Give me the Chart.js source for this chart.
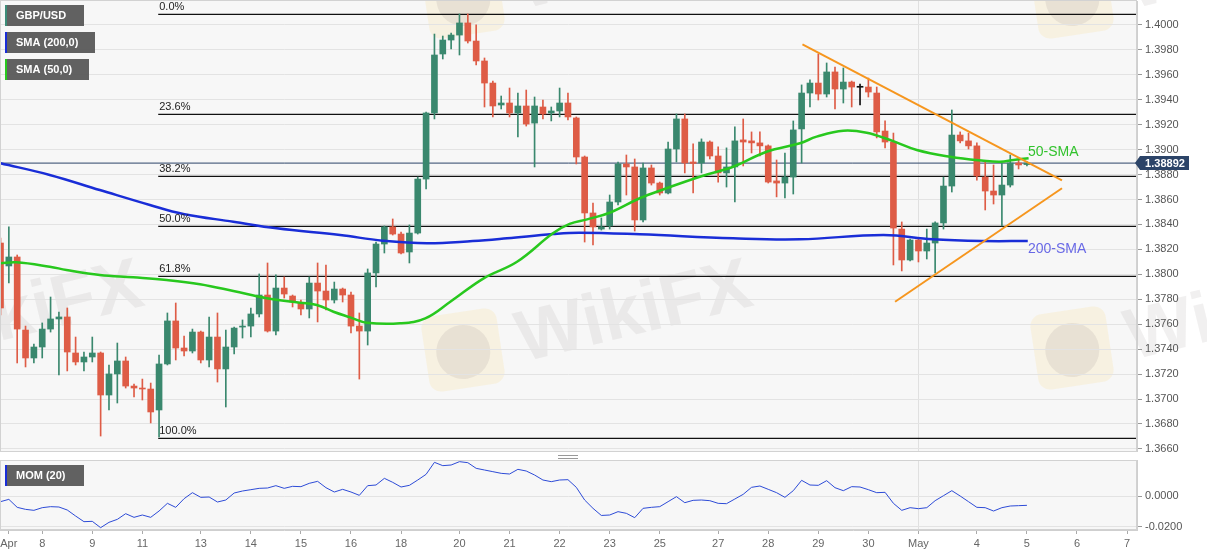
<!DOCTYPE html>
<html>
<head>
<meta charset="utf-8">
<script src="https://cdn.jsdelivr.net/npm/chart.js@4"></script>
<style>
  body { margin: 0; background: #fff; width: 1207px; height: 555px; overflow: hidden; position: relative; }
  #priceChart { position: absolute; left: 0; top: 0; width: 1207px; height: 455px; }
  #momChart { position: absolute; left: 0; top: 455px; width: 1207px; height: 100px; }
</style>
</head>
<body>
<canvas id="priceChart" width="1207" height="455"></canvas>
<canvas id="momChart" width="1207" height="100"></canvas>
<script>
// GBP/USD 4H candles, 7 Apr -> 5 May (index = candle number)
const opens = [1.38251,1.38067,1.38139,1.37553,1.37329,1.37417,1.37561,1.37642,1.37658,1.37369,
  1.37297,1.37337,1.37369,1.37032,1.37201,1.37305,1.37104,1.37088,1.37080,1.36912,
  1.37281,1.37626,1.37409,1.37385,1.37537,1.37313,1.37497,1.37241,1.37417,1.37577,
  1.37585,1.37682,1.37834,1.37545,1.37890,1.37826,1.37770,1.37722,1.37930,1.37866,
  1.37794,1.37882,1.37834,1.37585,1.37545,1.38011,1.38243,1.38380,1.38323,1.38179,
  1.38331,1.38764,1.39294,1.39767,1.39879,1.39919,1.40016,1.39871,1.39711,1.39534,
  1.39358,1.39374,1.39294,1.39350,1.39213,1.39342,1.39294,1.39310,1.39374,1.39254,
  1.38941,1.38492,1.38363,1.38388,1.38580,1.38885,1.38861,1.38436,1.38853,1.38732,
  1.38652,1.39005,1.39246,1.38901,1.38893,1.39061,1.38949,1.38813,1.38861,1.39078,
  1.39070,1.39054,1.39030,1.38749,1.38732,1.38780,1.39166,1.39454,1.39534,1.39446,
  1.39623,1.39486,1.39542,1.39500,1.39502,1.39454,1.39149,1.39061,1.38363,1.38115,
  1.38275,1.38187,1.38251,1.38412,1.38708,1.39117,1.39070,1.39030,1.38780,1.38668,
  1.38636,1.38716,1.38893,1.38880];
const highs = [1.38291,1.38380,1.38155,1.37585,1.37441,1.37610,1.37818,1.37698,1.37730,1.37497,
  1.37377,1.37497,1.37377,1.37273,1.37449,1.37337,1.37120,1.37160,1.37128,1.37353,
  1.37690,1.37770,1.37505,1.37561,1.37545,1.37658,1.37690,1.37553,1.37577,1.37634,
  1.37730,1.38003,1.38091,1.37995,1.37979,1.37834,1.37794,1.37979,1.38091,1.38075,
  1.37938,1.37890,1.37858,1.37690,1.38043,1.38259,1.38388,1.38444,1.38339,1.38396,
  1.38780,1.39302,1.39927,1.39911,1.39935,1.40088,1.40088,1.40000,1.39735,1.39550,
  1.39430,1.39494,1.39454,1.39478,1.39422,1.39398,1.39342,1.39494,1.39454,1.39262,
  1.38949,1.38572,1.38452,1.38636,1.38901,1.38957,1.38925,1.38893,1.38877,1.38740,
  1.39061,1.39286,1.39286,1.39046,1.39086,1.39070,1.39022,1.39014,1.39182,1.39246,
  1.39142,1.39142,1.39038,1.38917,1.38973,1.39230,1.39519,1.39559,1.39767,1.39695,
  1.39663,1.39655,1.39550,1.39526,1.39574,1.39502,1.39230,1.39133,1.38420,1.38283,
  1.38283,1.38363,1.38420,1.38780,1.39318,1.39142,1.39133,1.39054,1.38901,1.38877,
  1.38893,1.38957,1.38917,1.38905];
const lows = [1.37674,1.37930,1.37289,1.37257,1.37289,1.37329,1.37537,1.37193,1.37225,1.37273,
  1.37225,1.37297,1.36703,1.36912,1.36968,1.37088,1.37016,1.36992,1.36808,1.36695,
  1.37273,1.37313,1.37345,1.37369,1.37289,1.37257,1.37136,1.36936,1.37361,1.37489,
  1.37497,1.37658,1.37537,1.37513,1.37810,1.37738,1.37674,1.37650,1.37618,1.37714,
  1.37770,1.37778,1.37529,1.37160,1.37433,1.37898,1.38171,1.38315,1.38163,1.38091,
  1.38323,1.38684,1.39246,1.39727,1.39807,1.39759,1.39855,1.39679,1.39342,1.39262,
  1.39326,1.39262,1.39101,1.39189,1.38861,1.39246,1.39230,1.39262,1.39238,1.38885,
  1.38259,1.38235,1.38355,1.38363,1.38556,1.38636,1.38347,1.38420,1.38716,1.38636,
  1.38644,1.38901,1.38813,1.38652,1.38813,1.38925,1.38740,1.38700,1.38580,1.38869,
  1.38973,1.38949,1.38732,1.38621,1.38612,1.38644,1.38893,1.39342,1.39398,1.39422,
  1.39326,1.39374,1.39342,1.39358,1.39422,1.39094,1.39014,1.38075,1.38027,1.38107,
  1.38099,1.38123,1.38011,1.38363,1.38660,1.39054,1.39005,1.38756,1.38516,1.38564,
  1.38388,1.38700,1.38845,1.38870];
const closes = [1.37730,1.38139,1.37561,1.37329,1.37417,1.37561,1.37642,1.37658,1.37377,1.37297,
  1.37337,1.37369,1.37032,1.37201,1.37305,1.37104,1.37088,1.37080,1.36896,1.37281,
  1.37626,1.37409,1.37385,1.37537,1.37313,1.37497,1.37241,1.37417,1.37569,1.37585,
  1.37682,1.37834,1.37545,1.37890,1.37842,1.37778,1.37722,1.37930,1.37866,1.37794,
  1.37882,1.37834,1.37585,1.37545,1.38011,1.38243,1.38380,1.38323,1.38171,1.38331,
  1.38764,1.39294,1.39759,1.39879,1.39919,1.40016,1.39871,1.39711,1.39534,1.39350,
  1.39374,1.39294,1.39350,1.39205,1.39350,1.39286,1.39310,1.39374,1.39262,1.38941,
  1.38492,1.38380,1.38380,1.38580,1.38885,1.38861,1.38436,1.38853,1.38732,1.38652,
  1.39005,1.39246,1.38893,1.38889,1.39061,1.38949,1.38813,1.38861,1.39070,1.39061,
  1.39054,1.39030,1.38740,1.38732,1.38780,1.39158,1.39454,1.39534,1.39446,1.39623,
  1.39486,1.39542,1.39502,1.39500,1.39462,1.39142,1.39061,1.38371,1.38115,1.38275,
  1.38187,1.38251,1.38412,1.38708,1.39117,1.39070,1.39030,1.38789,1.38668,1.38636,
  1.38716,1.38893,1.38877,1.38892];

// MOM (20), one value per candle
const momValues = [-0.00353,-0.00200,-0.00726,-0.00858,-0.00923,-0.00748,-0.00682,-0.00704,-0.00901,-0.01296,
  -0.01669,-0.01647,-0.02064,-0.01713,-0.01516,-0.01143,-0.01384,-0.01230,-0.01384,-0.00967,
  -0.00463,-0.00726,-0.00156,0.00239,-0.00068,-0.00046,-0.00375,-0.00243,0.00217,0.00349,
  0.00436,0.00524,0.00546,0.00700,0.00524,0.00656,0.00634,0.00853,0.00985,0.00568,
  0.00283,0.00459,0.00283,0.00064,0.00700,0.00744,0.01182,0.00919,0.00612,0.00722,
  0.01073,0.01446,0.02235,0.02016,0.02060,0.02279,0.02213,0.01840,0.01731,0.01621,
  0.01511,0.01467,0.01775,0.01665,0.01402,0.01073,0.00963,0.01073,0.01094,0.00590,
  -0.00243,-0.00792,-0.01260,-0.01230,-0.01011,-0.01121,-0.01406,-0.00792,-0.00726,-0.00682,
  -0.00353,-0.00024,-0.00419,-0.00265,-0.00243,-0.00288,-0.00463,-0.00485,-0.00178,0.00130,
  0.00590,0.00678,0.00459,0.00239,-0.00068,0.00370,0.01051,0.00744,0.00722,0.01028,
  0.00568,0.00370,0.00634,0.00612,0.00436,0.00239,0.00261,-0.00463,-0.00923,-0.00748,
  -0.00814,-0.00748,-0.00288,0.00041,0.00370,0.00020,-0.00353,-0.00726,-0.00748,-0.00967,
  -0.00748,-0.00638,-0.00616,-0.00594];

// moving averages, read at sample points
const sma50X = [0,1.9,5.9,7.9,11.9,15.9,19.9,23.9,27.9,31.9,35.9,37.9,39.9,41.9,43.9,47.9,50.9,53.9,57.9,61.9,
  66.2,68.2,70.3,73.0,76.6,79.8,83.8,87.8,91.8,95.8,97.8,101.0,103.8,106.6,109.8,113.8,117.8,119.8,121.4,123.2];
const sma50Y = [1.38088,1.38096,1.38061,1.38035,1.37995,1.37976,1.37954,1.37920,1.37866,1.37808,1.37772,1.37754,1.37700,1.37655,1.37612,1.37607,1.37647,1.37780,1.37968,1.38101,
  1.38329,1.38404,1.38441,1.38494,1.38610,1.38690,1.38783,1.38863,1.38983,1.39051,1.39104,1.39152,1.39136,1.39077,1.38997,1.38943,1.38911,1.38903,1.38917,1.38931];
const sma200X = [0,5.9,11.9,17.9,21.9,27.9,33.1,40.7,45.8,51.1,56.6,60.7,66.2,69.4,76.6,87.8,95.8,105.8,111.7,117.7,123.1];
const sma200Y = [1.38891,1.38797,1.38676,1.38556,1.38484,1.38422,1.38369,1.38315,1.38270,1.38249,1.38267,1.38289,1.38323,1.38334,1.38321,1.38289,1.38281,1.38315,1.38281,1.38267,1.38267];

// Fibonacci retracement
const fibNames = ['0.0%', '23.6%', '38.2%', '50.0%', '61.8%', '100.0%'];
const fibPrices = [1.40085, 1.39283, 1.38786, 1.38385, 1.37984, 1.36685];
const fibStart = 18.9;

// triangle
const upperTrendX = [96.1, 127.2];
const upperTrendY = [1.39845, 1.38754];
const lowerTrendX = [107.2, 127.2];
const lowerTrendY = [1.37780, 1.38690];

const lastPrice = 1.38892;
const priceTicks = [1.3660,1.3680,1.3700,1.3720,1.3740,1.3760,1.3780,1.3800,1.3820,1.3840,1.3860,1.3880,1.3900,1.3920,1.3940,1.3960,1.3980,1.4000];
const momTicks = [-0.0200, 0.0000];
const dayTickIdx = [1,5,11,17,24,30,36,42,48,55,61,67,73,79,86,92,98,104,110,117,123,129,135];
const dayTickLabels = ['Apr','8','9','11','13','14','15','16','18','20','21','22','23','25','27','28','29','30','May','4','5','6','7'];
const mayIdx = 110;

const xMin = -0.06, xMax = 136.19;
const priceMin = 1.36583, priceMax = 1.40192;
const momMin = -0.02217, momMax = 0.02389;

const UP = 'rgb(58,136,110)';
const DOWN = 'rgb(222,92,70)';
const GREEN = 'rgb(40,200,30)';
const BLUE = 'rgb(25,45,215)';
const ORANGE = 'rgb(246,150,30)';
const NAVY = 'rgb(44,68,104)';
const FONT = "Arial, 'Liberation Sans', sans-serif";

Chart.defaults.font.family = FONT;

const candleIdx = opens.map((_, i) => i);
const candleColor = i => closes[i] > opens[i] ? UP : (closes[i] < opens[i] ? DOWN : '#111');
const colors = candleIdx.map(candleColor);

const pts = (xs, ys) => xs.map((x, i) => ({x: x, y: ys[i]}));

const fillArea = (chart) => {
  const {ctx, chartArea: a} = chart;
  ctx.save();
  ctx.fillStyle = '#f7f7f7';
  ctx.fillRect(a.left, a.top, a.right - a.left, a.bottom - a.top);
  const x = Math.round(chart.scales.x.getPixelForValue(mayIdx)) + 0.5;
  ctx.strokeStyle = '#e0e0e0';
  ctx.lineWidth = 1;
  ctx.beginPath();
  ctx.moveTo(x, a.top);
  ctx.lineTo(x, a.bottom);
  ctx.stroke();
  ctx.restore();
};

// faint site watermark (logo square + name)
const watermark = (ctx, lx, ly) => {
  ctx.save();
  ctx.translate(lx + 40, ly + 40);
  ctx.rotate(-0.15);
  ctx.fillStyle = 'rgba(250,222,140,0.2)';
  ctx.beginPath();
  ctx.roundRect(-38, -38, 76, 76, 12);
  ctx.fill();
  ctx.fillStyle = 'rgba(160,150,150,0.17)';
  ctx.beginPath();
  ctx.arc(0, 2, 27, 0, Math.PI * 2);
  ctx.fill();
  ctx.restore();
  ctx.save();
  ctx.translate(lx + 100, ly + 52);
  ctx.rotate(-0.24);
  ctx.font = 'bold 72px ' + FONT;
  ctx.fillStyle = 'rgba(170,160,160,0.16)';
  ctx.textBaseline = 'alphabetic';
  ctx.fillText('WikiFX', 0, 0);
  ctx.restore();
};

const tag = (ctx, x, y, w, h, stripe, text) => {
  ctx.fillStyle = 'rgba(88,88,88,0.95)';
  ctx.fillRect(x, y, w, h);
  ctx.fillStyle = stripe;
  ctx.fillRect(x, y, 2, h);
  ctx.fillStyle = '#fff';
  ctx.font = 'bold 11px ' + FONT;
  ctx.textBaseline = 'middle';
  ctx.textAlign = 'left';
  ctx.fillText(text, x + 11, y + h / 2 + 0.5);
};

const priceDecor = {
  id: 'priceDecor',
  beforeDraw(chart) {
    fillArea(chart);
    const ctx = chart.ctx;
    [[423, 310], [1032, 308], [-186, 310], [423, -43], [1032, -43]].forEach(p => watermark(ctx, p[0], p[1]));
  },
  afterDraw(chart) {
    const {ctx, chartArea: a} = chart;
    const xs = chart.scales.x, ys = chart.scales.y;
    ctx.save();
    ctx.strokeStyle = '#d2d2d2';
    ctx.lineWidth = 1;
    ctx.strokeRect(a.left + 0.5, a.top - 0.5, a.right - a.left - 1, a.bottom - a.top + 1);

    // fib labels
    ctx.fillStyle = '#222';
    ctx.font = '11px ' + FONT;
    ctx.textAlign = 'left';
    ctx.textBaseline = 'bottom';
    const fx = xs.getPixelForValue(fibStart) + 1;
    fibPrices.forEach((p, i) => ctx.fillText(fibNames[i], fx, ys.getPixelForValue(p) - 2));

    // line notes
    ctx.font = '14px ' + FONT;
    ctx.textBaseline = 'middle';
    ctx.fillStyle = 'rgb(50,195,45)';
    ctx.fillText('50-SMA', 1028, 152);
    ctx.fillStyle = 'rgb(105,105,230)';
    ctx.fillText('200-SMA', 1028, 249);

    // legend tags
    tag(ctx, 5, 5, 79, 21, 'rgb(60,140,120)', 'GBP/USD');
    tag(ctx, 5, 32, 90, 21, BLUE, 'SMA (200,0)');
    tag(ctx, 5, 59, 84, 21, GREEN, 'SMA (50,0)');

    // last price label
    const py = ys.getPixelForValue(lastPrice);
    ctx.fillStyle = NAVY;
    ctx.beginPath();
    ctx.moveTo(1135, py);
    ctx.lineTo(1140, py - 7);
    ctx.lineTo(1189, py - 7);
    ctx.lineTo(1189, py + 7);
    ctx.lineTo(1140, py + 7);
    ctx.closePath();
    ctx.fill();
    ctx.fillStyle = '#fff';
    ctx.font = 'bold 11px ' + FONT;
    ctx.textAlign = 'center';
    ctx.fillText(lastPrice.toFixed(5), 1165, py + 0.5);
    ctx.restore();
  }
};

const momDecor = {
  id: 'momDecor',
  beforeDraw: fillArea,
  afterDraw(chart) {
    const {ctx, chartArea: a} = chart;
    ctx.save();
    ctx.strokeStyle = '#d2d2d2';
    ctx.lineWidth = 1;
    ctx.strokeRect(a.left + 0.5, a.top + 0.5, a.right - a.left - 1, a.bottom - a.top - 1);
    tag(ctx, 5, 10, 79, 21, BLUE, 'MOM (20)');
    // panel drag handle
    ctx.strokeStyle = '#999';
    ctx.beginPath();
    ctx.moveTo(558, 0.5); ctx.lineTo(578, 0.5);
    ctx.moveTo(558, 3.5); ctx.lineTo(578, 3.5);
    ctx.stroke();
    ctx.restore();
  }
};

const noPad = (w) => (axis) => {
  if (w.width !== undefined) axis.width = w.width;
  if (w.height !== undefined) axis.height = w.height;
  axis.paddingTop = 0; axis.paddingBottom = 0;
  axis.paddingLeft = 0; axis.paddingRight = 0;
};

const lineSet = (data, color, width, order, extra) => Object.assign({
  type: 'line', data: data, borderColor: color, borderWidth: width,
  pointRadius: 0, fill: false, order: order
}, extra || {});

new Chart(document.getElementById('priceChart'), {
  type: 'line',
  data: {
    datasets: [
      lineSet(pts(upperTrendX, upperTrendY), ORANGE, 2, 0),
      lineSet(pts(lowerTrendX, lowerTrendY), ORANGE, 2, 0),
      lineSet(pts(sma50X, sma50Y), GREEN, 2.5, 1, {tension: 0.4}),
      lineSet(pts(sma200X, sma200Y), BLUE, 2.5, 1, {tension: 0.4}),
      {
        type: 'bar', data: candleIdx.map(i => ({x: i, y: [opens[i], closes[i]]})),
        backgroundColor: colors, barThickness: 6, grouped: false, minBarLength: 1, order: 2
      },
      {
        type: 'bar', data: candleIdx.map(i => ({x: i, y: [lows[i], highs[i]]})),
        backgroundColor: colors, barThickness: 1, grouped: false, order: 3
      },
      lineSet([{x: xMin, y: lastPrice}, {x: xMax, y: lastPrice}], NAVY, 1, 4),
      ...fibPrices.map(p => lineSet([{x: fibStart, y: p}, {x: xMax, y: p}], '#111', 1.3, 5))
    ]
  },
  options: {
    responsive: false,
    animation: false,
    layout: {padding: {top: 1, bottom: 4, left: 0, right: 0}},
    plugins: {legend: {display: false}, tooltip: {enabled: false}},
    scales: {
      x: {type: 'linear', display: false, min: xMin, max: xMax, offset: false},
      y: {
        type: 'linear', position: 'right', min: priceMin, max: priceMax, beginAtZero: false,
        afterFit: noPad({width: 70}),
        afterBuildTicks: (axis) => { axis.ticks = priceTicks.map(v => ({value: v})); },
        ticks: {callback: v => Number(v).toFixed(4), color: '#555', font: {size: 11}, padding: 3},
        grid: {color: '#e3e3e3', tickLength: 5, tickColor: '#999'},
        border: {color: '#cfcfcf'}
      }
    }
  },
  plugins: [priceDecor]
});

new Chart(document.getElementById('momChart'), {
  type: 'line',
  data: {
    datasets: [
      lineSet(candleIdx.map(i => ({x: i, y: momValues[i]})), 'rgb(45,75,215)', 1, 0)
    ]
  },
  options: {
    responsive: false,
    animation: false,
    layout: {padding: {top: 5, bottom: 0, left: 0, right: 0}},
    plugins: {legend: {display: false}, tooltip: {enabled: false}},
    scales: {
      x: {
        type: 'linear', min: xMin, max: xMax, offset: false,
        afterFit: noPad({height: 25}),
        afterBuildTicks: (axis) => { axis.ticks = dayTickIdx.map(v => ({value: v})); },
        ticks: {callback: (v, i) => dayTickLabels[i], autoSkip: false, maxRotation: 0, color: '#666', font: {size: 11}, padding: 3},
        grid: {drawOnChartArea: false, tickLength: 4, tickColor: '#aaa'},
        border: {color: '#cfcfcf'}
      },
      y: {
        type: 'linear', position: 'right', min: momMin, max: momMax,
        afterFit: noPad({width: 70}),
        afterBuildTicks: (axis) => { axis.ticks = momTicks.map(v => ({value: v})); },
        ticks: {callback: v => Number(v).toFixed(4), color: '#555', font: {size: 11}, padding: 3},
        grid: {color: '#e3e3e3', tickLength: 5, tickColor: '#999'},
        border: {color: '#cfcfcf'}
      }
    }
  },
  plugins: [momDecor]
});
</script>
</body>
</html>
